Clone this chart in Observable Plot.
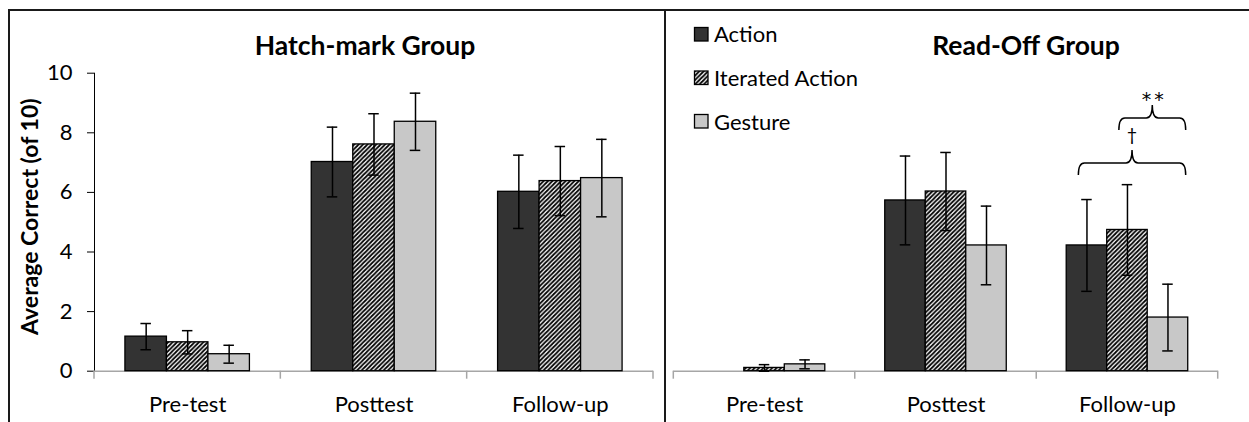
<!DOCTYPE html>
<html><head><meta charset="utf-8">
<script src="https://cdn.jsdelivr.net/npm/d3@7"></script>
<script src="https://cdn.jsdelivr.net/npm/@observablehq/plot@0.6"></script>
<style>
html,body{margin:0;padding:0;background:#fff;}
#chart{position:relative;width:1249px;height:422px;overflow:hidden;font-family:Lato,sans-serif;background:#fff;}
#chart svg.panel{position:absolute;top:0;background:transparent;max-width:none;}
.bline{position:absolute;background:#1a1a1a;}
svg.panel [aria-label="y-axis tick"], svg.panel [aria-label="y-axis line"]{stroke:#a6a6a6;}
</style></head><body><div id="chart"></div>
<script>
// ---- data ----
const categories = ["Pre-test", "Posttest", "Follow-up"];
const seriesNames = ["Action", "Iterated Action", "Gesture"];
const yTicks = [0, 2, 4, 6, 8, 10];

const hatchAction    = [1.16, 7.02, 6.02];
const hatchActionErr = [0.44, 1.17, 1.23];
const hatchIterated    = [0.97, 7.61, 6.38];
const hatchIteratedErr = [0.39, 1.03, 1.16];
const hatchGesture    = [0.57, 8.37, 6.48];
const hatchGestureErr = [0.30, 0.96, 1.30];

const readAction    = [0.00, 5.73, 4.22];
const readActionErr = [0.00, 1.49, 1.54];
const readIterated    = [0.11, 6.03, 4.74];
const readIteratedErr = [0.11, 1.31, 1.52];
const readGesture    = [0.23, 4.22, 1.80];
const readGestureErr = [0.15, 1.32, 1.12];

const panelTitles = ["Hatch-mark Group", "Read-Off Group"];
const yTitle = "Average Correct (of 10)";

const brackets = [
  {category: "Follow-up", from: "Action", to: "Gesture", y: 6.57, label: "\u2020"},
  {category: "Follow-up", from: "Iterated Action", to: "Gesture", y: 8.08, label: "**"}
];

function rowsOf(means, errs) {
  const out = [];
  categories.forEach((c, i) => {
    seriesNames.forEach((s, j) => out.push({category: c, series: s, mean: means[j][i], err: errs[j][i]}));
  });
  return out;
}
const hatchRows = rowsOf([hatchAction, hatchIterated, hatchGesture], [hatchActionErr, hatchIteratedErr, hatchGestureErr]);
const readRows = rowsOf([readAction, readIterated, readGesture], [readActionErr, readIteratedErr, readGestureErr]);

const fills = {"Action": "#333333", "Iterated Action": "url(#hatch)", "Gesture": "#c8c8c8"};

function panel(rows, o) {
  const eb = rows.filter(d => d.err > 0);
  const marks = [Plot.ruleY([0], {stroke: "#a6a6a6", strokeWidth: 1.5})];
  for (const s of seriesNames) {
    marks.push(Plot.barY(rows, {filter: d => d.series === s && d.mean > 0, fx: "category", x: "series", y: "mean",
      fill: fills[s], stroke: "#000", strokeWidth: 1.3}));
  }
  marks.push(Plot.ruleX(eb, {fx: "category", x: "series", y1: d => d.mean - d.err, y2: d => d.mean + d.err, stroke: "#000", strokeWidth: 1.5}));
  marks.push(Plot.tickY(eb, {fx: "category", x: "series", y: d => d.mean + d.err, insetLeft: o.cap, insetRight: o.cap, stroke: "#000", strokeWidth: 1.5}));
  marks.push(Plot.tickY(eb, {fx: "category", x: "series", y: d => d.mean - d.err, insetLeft: o.cap, insetRight: o.cap, stroke: "#000", strokeWidth: 1.5}));
  const p = Plot.plot({
    width: o.width, height: 422,
    marginLeft: o.ml, marginRight: o.mr, marginTop: 72.7, marginBottom: 51.3,
    style: {fontFamily: "Lato, sans-serif", fontSize: "22px", color: "#000", background: "transparent", overflow: "visible"},
    fx: {domain: categories, padding: 0, round: false, label: null, axis: "bottom", tickSize: 0, tickPadding: 25},
    x: {domain: seriesNames, paddingInner: 0, paddingOuter: o.outer, round: false, axis: null},
    y: o.showY ? {domain: [0, 10], ticks: yTicks, tickSize: 7, tickPadding: 15, line: true, label: null}
               : {domain: [0, 10], axis: null},
    marks
  });
  p.classList.add("panel");
  p.style.left = o.left + "px";
  return p;
}

const chart = document.getElementById("chart");
const left = panel(hatchRows, {width: 665, ml: 94, mr: 12, outer: 0.745, cap: 15.5, showY: true, left: 0});
const right = panel(readRows, {width: 584, ml: 8.3, mr: 31.3, outer: 0.74, cap: 15, showY: false, left: 665});
chart.appendChild(left);
chart.appendChild(right);

// hatch pattern
const defs = d3.select(left).append("defs");
const pat = defs.append("pattern").attr("id", "hatch").attr("patternUnits", "userSpaceOnUse")
  .attr("width", 4.4).attr("height", 4.4);
pat.append("rect").attr("width", 4.4).attr("height", 4.4).attr("fill", "#fff");
pat.append("path").attr("d", "M-1,1 l2,-2 M0,4.4 l4.4,-4.4 M3.4,5.4 l2,-2").attr("stroke", "#000").attr("stroke-width", 1.75);

// boundary ticks on category axis
function boundaryTicks(p) {
  const fx = p.scale("fx"), y = p.scale("y");
  const y0 = y.apply(0);
  const xs = categories.map(c => fx.apply(c));
  xs.push(fx.apply(categories[categories.length - 1]) + fx.bandwidth);
  const g = d3.select(p).append("g").attr("stroke", "#a6a6a6").attr("stroke-width", 1.5);
  xs.forEach(x => g.append("line").attr("x1", x).attr("x2", x).attr("y1", y0).attr("y2", y0 + 8));
}
boundaryTicks(left);
boundaryTicks(right);

// titles
function addTitle(p, text, cx) {
  d3.select(p).append("text").attr("x", cx).attr("y", 55).attr("text-anchor", "middle")
    .attr("font-weight", "bold").attr("font-size", 26.5).attr("fill", "#000").text(text);
}
addTitle(left, panelTitles[0], 365);
addTitle(right, panelTitles[1], 361);

// y title
{
  const y = left.scale("y");
  const cy = (y.apply(0) + y.apply(10)) / 2 - 5;
  d3.select(left).append("text").attr("transform", `translate(38,${cy}) rotate(-90)`)
    .attr("text-anchor", "middle").attr("font-weight", "bold").attr("font-size", 23).attr("fill", "#000").text(yTitle);
}

// legend
{
  const g = d3.select(right).append("g").attr("font-size", 22).attr("text-anchor", "start");
  seriesNames.forEach((s, i) => {
    g.append("rect").attr("x", 29.5).attr("y", 27.5 + i * 43.5).attr("width", 13.5).attr("height", 13.5)
      .attr("fill", fills[s]).attr("stroke", "#000").attr("stroke-width", 1.3);
    g.append("text").attr("x", 49).attr("y", 41.7 + i * 44).attr("text-anchor", "start").attr("fill", "#000").text(s);
  });
}

// significance brackets
{
  const fx = right.scale("fx"), x = right.scale("x"), y = right.scale("y");
  const ax = (c, s, f) => fx.apply(c) + x.apply(s) - x.range[0] + f * x.bandwidth;
  const g = d3.select(right).append("g");
  brackets.forEach(b => {
    const x0 = ax(b.category, b.from, 0.3), x1 = ax(b.category, b.to, 0.95);
    const xm = (x0 + x1) / 2, yb = y.apply(b.y), yh = yb - 12, yp = yh - 13, r = 6;
    const d = `M${x0},${yb} Q${x0},${yh} ${x0 + r},${yh} L${xm - r},${yh} Q${xm},${yh} ${xm},${yp} ` +
              `Q${xm},${yh} ${xm + r},${yh} L${x1 - r},${yh} Q${x1},${yh} ${x1},${yb}`;
    g.append("path").attr("d", d).attr("fill", "none").attr("stroke", "#000").attr("stroke-width", 1.5);
    const isStar = b.label === "**";
    g.append("text").attr("x", xm + (isStar ? 2 : 0)).attr("y", isStar ? yp + 1 : yp - 9).attr("text-anchor", "middle")
      .attr("font-family", isStar ? "'DejaVu Sans', sans-serif" : "Lato, sans-serif")
      .attr("letter-spacing", isStar ? 3 : 0)
      .attr("font-size", isStar ? 19 : 18).attr("fill", "#000").text(b.label);
  });
}

// frame lines
[[7.5, 9, 1241.5, 1.8], [7.5, 9, 2, 413], [663.5, 9, 2, 413]].forEach(([l, t, w, h]) => {
  const d = document.createElement("div");
  d.className = "bline";
  Object.assign(d.style, {left: l + "px", top: t + "px", width: w + "px", height: h + "px"});
  chart.appendChild(d);
});
</script></body></html>
